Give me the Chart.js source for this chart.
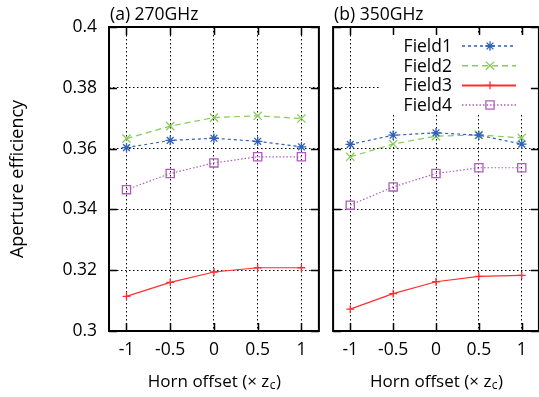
<!DOCTYPE html>
<html>
<head>
<meta charset="utf-8">
<script src="https://cdn.jsdelivr.net/npm/chart.js@4/dist/chart.umd.min.js"></script>
<style>
  html, body { margin: 0; padding: 0; background: #fff; overflow: hidden; }
  #wrap { position: relative; width: 539px; height: 397px; overflow: hidden; }
  #left { position: absolute; left: 0; top: 0; }
  #right { position: absolute; left: 326px; top: 0; }
</style>
</head>
<body>
<div id="wrap">
  <canvas id="left" width="326" height="397"></canvas>
  <canvas id="right" width="220" height="397"></canvas>
</div>
<script>
// Data ===========================================
const offsets = [-1, -0.5, 0, 0.5, 1];
const xTickValues = [-1, -0.5, 0, 0.5, 1];
const xTickLabels = ['-1', '-0.5', '0', '0.5', '1'];
const yTickValues = [0.3, 0.32, 0.34, 0.36, 0.38, 0.4];
const yTickLabels = ['0.3', '0.32', '0.34', '0.36', '0.38', '0.4'];
const seriesNames = ['Field1', 'Field2', 'Field3', 'Field4'];
const panelTitles = ['(a) 270GHz', '(b) 350GHz'];

// (a) 270GHz
const field1_270 = [0.3603, 0.3627, 0.3634, 0.3624, 0.3606];
const field2_270 = [0.3633, 0.3674, 0.3702, 0.3708, 0.3699];
const field3_270 = [0.3114, 0.3160, 0.3194, 0.3208, 0.3208];
const field4_270 = [0.3465, 0.3518, 0.3553, 0.3573, 0.3573];

// (b) 350GHz
const field1_350 = [0.3614, 0.3644, 0.3652, 0.3644, 0.3615];
const field2_350 = [0.3573, 0.3615, 0.3641, 0.3645, 0.3635];
const field3_350 = [0.3072, 0.3123, 0.3162, 0.3180, 0.3183];
const field4_350 = [0.3414, 0.3474, 0.3518, 0.3537, 0.3537];

// Styles =========================================
const FONT = '"Open Sans", "Noto Sans", sans-serif';
const FS = 17.5;
const seriesStyles = [
  { color: '#2f5fb8', dash: [3, 3], point: 'star', radius: 4.8 },
  { color: '#86cc58', dash: [6, 4], point: 'crossRot', radius: 5.8 },
  { color: '#ff2e2e', dash: [], point: 'cross', radius: 3.9 },
  { color: '#b05cbc', dash: [1.5, 2], point: 'rect', radius: 5.8 }
];

function makeDatasets(seriesList) {
  return seriesList.map((vals, i) => {
    const s = seriesStyles[i];
    return {
      label: seriesNames[i],
      data: offsets.map((x, k) => ({ x: x, y: vals[k] })),
      borderColor: s.color,
      borderWidth: 1.2,
      borderDash: s.dash,
      tension: 0,
      fill: false,
      pointStyle: s.point,
      pointRadius: s.radius,
      pointBorderWidth: 1.3,
      pointBorderColor: s.color,
      pointBackgroundColor: 'rgba(0,0,0,0)'
    };
  });
}

// Draw helpers ===================================
function drawFrame(chart) {
  const ctx = chart.ctx;
  const a = chart.chartArea;
  const xs = chart.scales.x, ys = chart.scales.y;
  const tl = 8;
  ctx.save();
  ctx.strokeStyle = '#000';
  ctx.lineWidth = 1.5;
  ctx.setLineDash([]);
  ctx.beginPath();
  xTickValues.forEach(v => {
    const px = Math.round(xs.getPixelForValue(v)) + 0.5;
    ctx.moveTo(px, a.top); ctx.lineTo(px, a.top + tl);
    ctx.moveTo(px, a.bottom); ctx.lineTo(px, a.bottom - tl);
  });
  yTickValues.forEach(v => {
    const py = Math.round(ys.getPixelForValue(v)) + 0.5;
    ctx.moveTo(a.left, py); ctx.lineTo(a.left + tl, py);
    ctx.moveTo(a.right, py); ctx.lineTo(a.right - tl, py);
  });
  ctx.stroke();
  ctx.lineWidth = 2;
  ctx.strokeRect(a.left, a.top, a.right - a.left, a.bottom - a.top);
  ctx.restore();
}

function drawXTitle(ctx, cx) {
  const main = 'Horn offset (× z';
  const sub = 'c';
  const close = ')';
  ctx.save();
  ctx.fillStyle = '#000';
  ctx.textBaseline = 'alphabetic';
  ctx.textAlign = 'left';
  ctx.font = '17px ' + FONT;
  const wMain = ctx.measureText(main).width;
  const wClose = ctx.measureText(close).width;
  ctx.font = '12px ' + FONT;
  const wSub = ctx.measureText(sub).width;
  let x = cx - (wMain + wSub + wClose) / 2;
  const base = 387;
  ctx.font = '17px ' + FONT;
  ctx.fillText(main, x, base);
  ctx.font = '12px ' + FONT;
  ctx.fillText(sub, x + wMain + 0.5, base + 1.5);
  ctx.font = '17px ' + FONT;
  ctx.fillText(close, x + wMain + wSub + 1, base);
  ctx.restore();
}

function drawMarker(ctx, style, x, y) {
  const opts = { pointStyle: style.point, radius: style.radius, borderWidth: 1.3, rotation: 0 };
  ctx.save();
  ctx.setLineDash([]);
  ctx.strokeStyle = style.color;
  ctx.fillStyle = 'rgba(0,0,0,0)';
  ctx.lineWidth = 1.3;
  Chart.helpers.drawPoint(ctx, opts, x, y);
  ctx.restore();
}

function drawLegend(chart) {
  const ctx = chart.ctx;
  ctx.save();
  ctx.fillStyle = '#fff';
  ctx.fillRect(54, 35, 170, 78);
  const rows = [46, 65.7, 85.4, 105];
  seriesNames.forEach((name, i) => {
    const s = seriesStyles[i];
    const y = rows[i];
    ctx.font = FS + 'px ' + FONT;
    ctx.fillStyle = '#000';
    ctx.textAlign = 'right';
    ctx.textBaseline = 'middle';
    ctx.fillText(name, 126, y + 1);
    ctx.strokeStyle = s.color;
    ctx.lineWidth = i === 2 ? 2 : 1.5;
    ctx.setLineDash(s.dash);
    ctx.beginPath();
    ctx.moveTo(136, y);
    ctx.lineTo(190, y);
    ctx.stroke();
    drawMarker(ctx, s, 164, y);
  });
  ctx.restore();
}

const decorPlugin = {
  id: 'decor',
  afterDraw(chart) {
    const ctx = chart.ctx;
    const a = chart.chartArea;
    const isLeft = chart.canvas.id === 'left';
    if (!isLeft) drawLegend(chart);
    drawFrame(chart);
    ctx.save();
    ctx.fillStyle = '#000';
    ctx.font = FS + 'px ' + FONT;
    ctx.textAlign = 'left';
    ctx.textBaseline = 'alphabetic';
    ctx.fillText(isLeft ? panelTitles[0] : panelTitles[1], a.left + 1, 20);
    if (isLeft) {
      ctx.font = '18px ' + FONT;
      ctx.translate(18, (a.top + a.bottom) / 2);
      ctx.rotate(-Math.PI / 2);
      ctx.textAlign = 'center';
      ctx.textBaseline = 'middle';
      ctx.fillText('Aperture efficiency', 0, 0);
    }
    ctx.restore();
    drawXTitle(ctx, (a.left + a.right) / 2);
  }
};

// Config =========================================
function panelConfig(seriesList, isLeft) {
  return {
    type: 'line',
    data: { datasets: makeDatasets(seriesList) },
    plugins: [decorPlugin],
    options: {
      responsive: false,
      animation: false,
      layout: { padding: { left: isLeft ? 0 : 4, right: isLeft ? 5 : 4, top: 27, bottom: 0 } },
      plugins: { legend: { display: false }, tooltip: { enabled: false } },
      scales: {
        x: {
          type: 'linear',
          min: -1.2,
          max: 1.2,
          afterBuildTicks: s => { s.ticks = xTickValues.map(v => ({ value: v })); },
          afterFit: s => { s.height = 66; },
          ticks: {
            callback: v => xTickLabels[xTickValues.indexOf(v)],
            font: { family: FONT, size: FS },
            color: '#000',
            padding: 9,
            maxRotation: 0,
            autoSkip: false
          },
          grid: { color: '#000', lineWidth: 1, drawTicks: false },
          border: { display: false, dash: [1.5, 2.5] }
        },
        y: {
          min: 0.3,
          max: 0.4,
          afterBuildTicks: s => { s.ticks = yTickValues.map(v => ({ value: v })); },
          afterFit: s => { s.width = isLeft ? 109 : 0; },
          ticks: {
            display: isLeft,
            callback: v => yTickLabels[yTickValues.findIndex(t => Math.abs(t - v) < 1e-9)],
            font: { family: FONT, size: FS },
            color: '#000',
            padding: 12
          },
          grid: { color: '#000', lineWidth: 1, drawTicks: false },
          border: { display: false, dash: [1.5, 2.5] }
        }
      }
    }
  };
}

const leftChart = new Chart(
  document.getElementById('left'),
  panelConfig([field1_270, field2_270, field3_270, field4_270], true)
);

const rightChart = new Chart(
  document.getElementById('right'),
  panelConfig([field1_350, field2_350, field3_350, field4_350], false)
);
</script>
</body>
</html>
